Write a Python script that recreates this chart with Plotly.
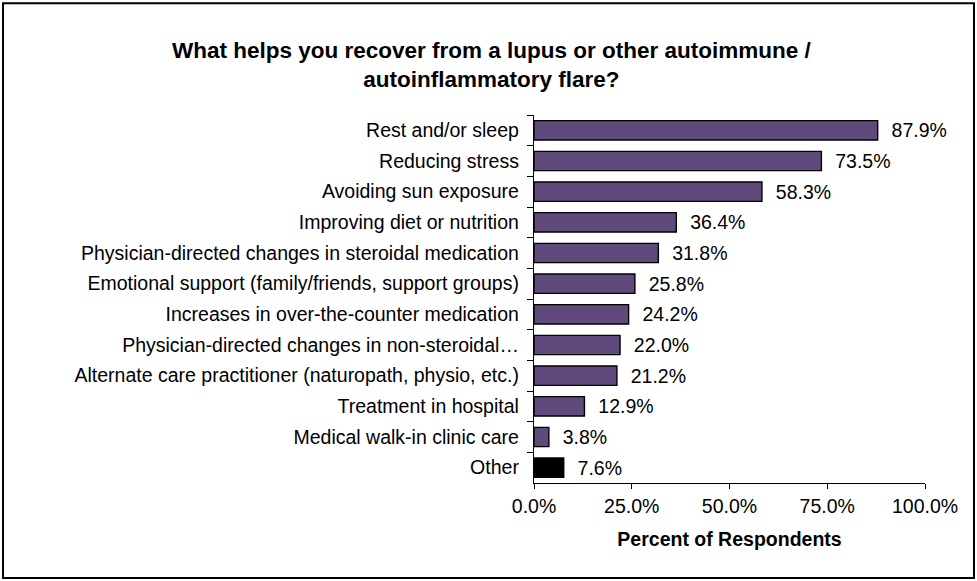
import plotly.graph_objects as go

categories = [
    "Rest and/or sleep",
    "Reducing stress",
    "Avoiding sun exposure",
    "Improving diet or nutrition",
    "Physician-directed changes in steroidal medication",
    "Emotional support (family/friends, support groups)",
    "Increases in over-the-counter medication",
    "Physician-directed changes in non-steroidal\u2026",
    "Alternate care practitioner (naturopath, physio, etc.)",
    "Treatment in hospital",
    "Medical walk-in clinic care",
    "Other",
]
percents = [87.9, 73.5, 58.3, 36.4, 31.8, 25.8, 24.2, 22.0, 21.2, 12.9, 3.8, 7.6]
x_ticks = [0, 25, 50, 75, 100]
x_tick_labels = ["0.0%", "25.0%", "50.0%", "75.0%", "100.0%"]

bar_colors = ["#604A7B"] * (len(categories) - 1) + ["#000000"]

fig = go.Figure(
    go.Bar(
        x=percents,
        y=categories,
        orientation="h",
        width=0.63,
        marker=dict(color=bar_colors, line=dict(color="black", width=1.4)),
        text=[f"\u00a0\u00a0{v:.1f}%" for v in percents],
        textposition="outside",
        constraintext="none",
        textfont=dict(size=19.5, color="black"),
        cliponaxis=False,
    )
)

fig.update_layout(
    width=977,
    height=581,
    font=dict(family="Liberation Sans, Arial", size=19.5, color="black"),
    paper_bgcolor="white",
    plot_bgcolor="white",
    margin=dict(l=534, r=52, t=115, b=98),
    showlegend=False,
    title=dict(
        text="<b>What helps you recover from a lupus or other autoimmune /<br>autoinflammatory flare?</b>",
        x=0.503,
        xanchor="center",
        y=0.9,
        yanchor="middle",
        font=dict(size=22.5, color="black"),
    ),
    bargap=0.37,
)

fig.update_xaxes(
    range=[0, 100],
    tickvals=x_ticks,
    ticktext=x_tick_labels,
    showgrid=False,
    zeroline=False,
    showline=True,
    linecolor="black",
    linewidth=1.4,
    ticks="outside",
    ticklen=5,
    tickcolor="black",
    title=dict(text="<b>Percent of Respondents</b>", font=dict(size=19.5), standoff=16),
)
fig.update_yaxes(
    autorange="reversed",
    showgrid=False,
    showline=True,
    linecolor="black",
    linewidth=1.4,
    ticks="outside",
    tickson="boundaries",
    ticklen=6,
    tickcolor="black",
    ticklabelstandoff=10,
)

# outer frame around the whole chart
fig.add_shape(
    type="rect",
    xref="paper",
    yref="paper",
    x0=-1.358,
    x1=1.1253,
    y0=-0.258,
    y1=1.304,
    line=dict(color="black", width=2),
)

fig.write_html(
    "out.html",
    config={"displayModeBar": False},
    post_script="document.body.style.margin='0';",
)
